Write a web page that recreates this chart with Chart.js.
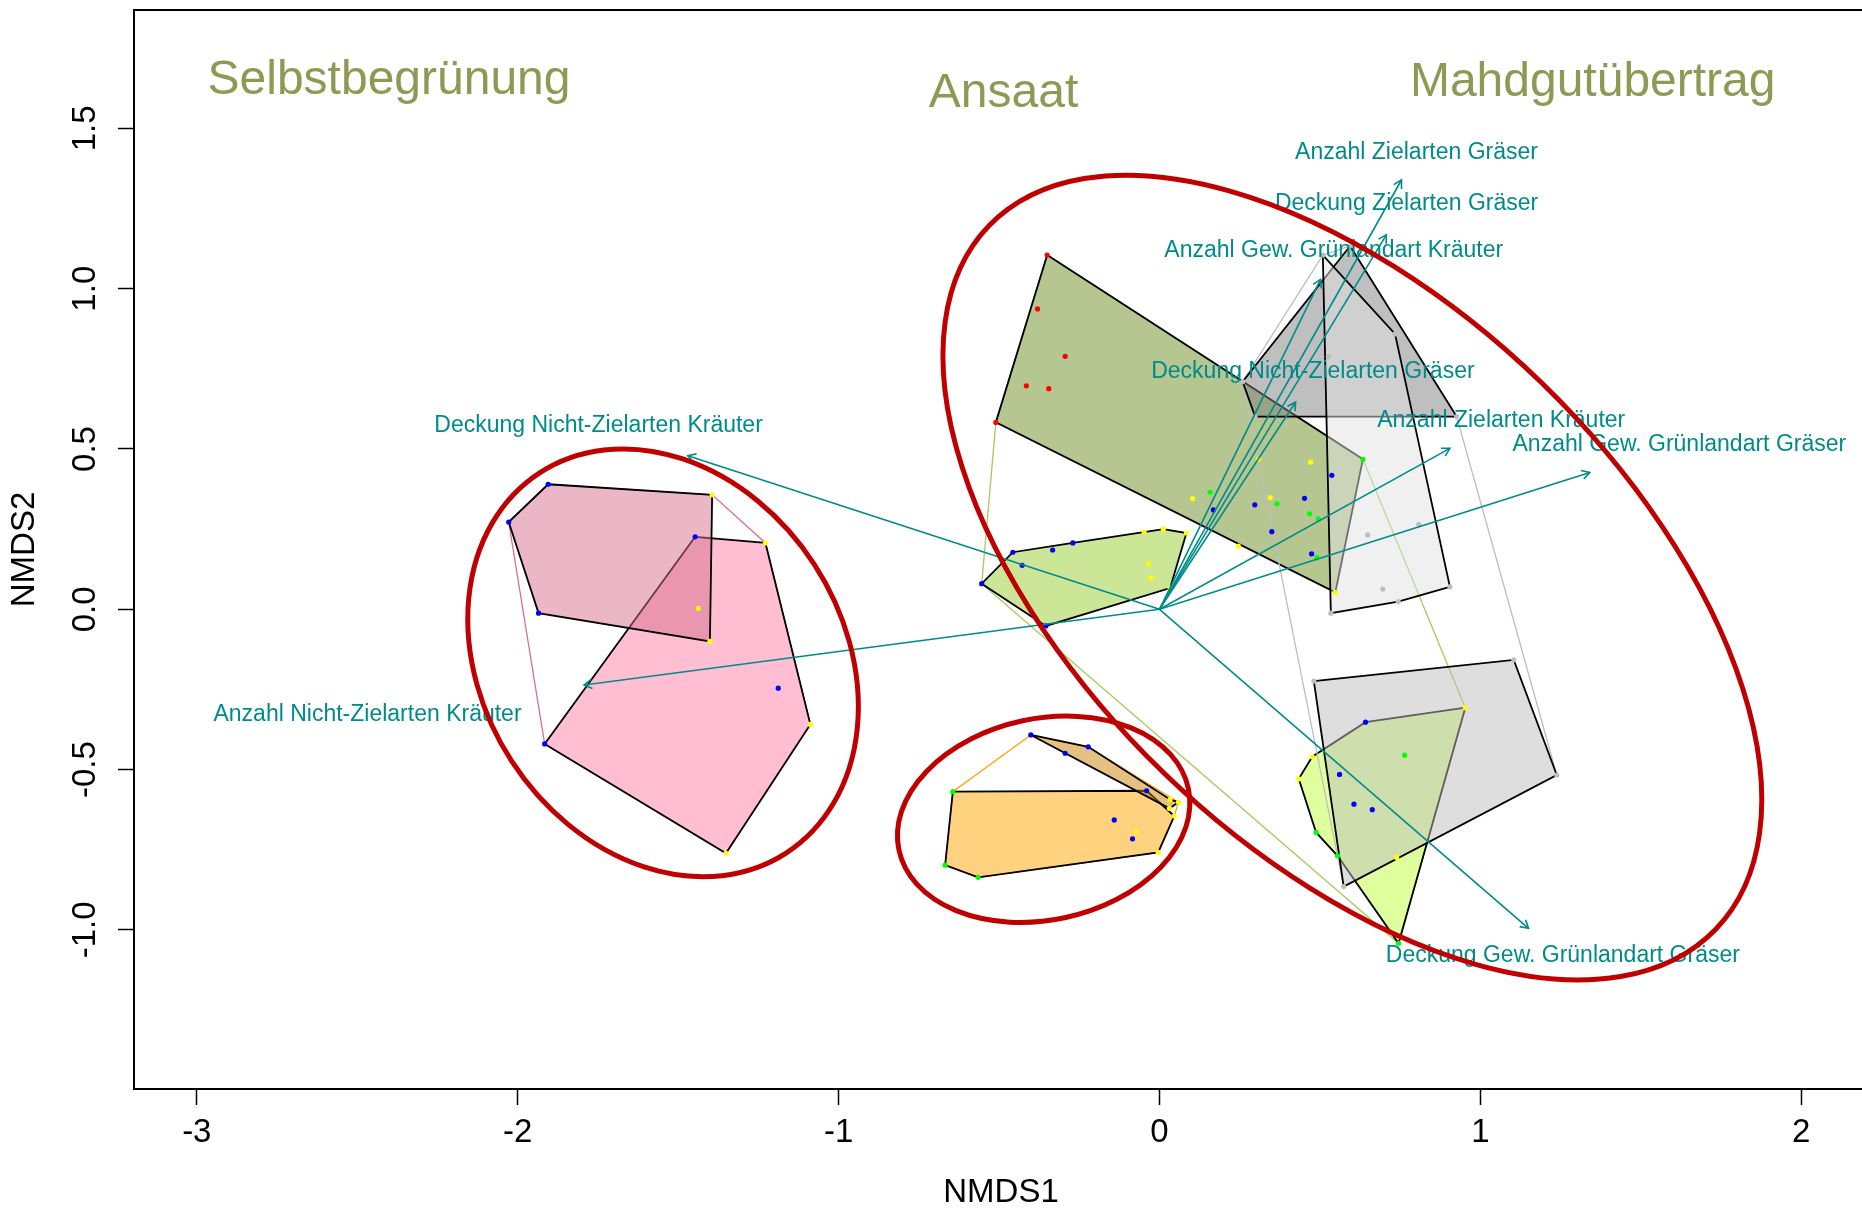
<!DOCTYPE html>
<html lang="de">
<head>
<meta charset="utf-8">
<title>NMDS – Begrünungsverfahren</title>
<script src="https://cdn.jsdelivr.net/npm/chart.js@4.4.1/dist/chart.umd.min.js"></script>
<style>
  html, body { margin: 0; padding: 0; background: #fff; overflow: hidden; width: 1862px; height: 1209px; }
  canvas { display: block; }
</style>
</head>
<body>
<canvas id="nmds" width="1874" height="1209"></canvas>
<script>
// ---- Axis ticks ----
const xTicks = [-3, -2, -1, 0, 1, 2];
const xTickLabels = ['-3', '-2', '-1', '0', '1', '2'];
const yTicks = [-1, -0.5, 0, 0.5, 1, 1.5];
const yTickLabels = ['-1.0', '-0.5', '0.0', '0.5', '1.0', '1.5'];

// ---- Site scores [NMDS1, NMDS2], by point colour ----
const sitesBlue = [
  [-1.905, 0.390], [-1.935, -0.012], [-2.028, 0.272], [-1.447, 0.226], [-1.916, -0.420], [-1.188, -0.246],
  [0.537, 0.418], [0.297, 0.326], [0.452, 0.346], [0.350, 0.242], [0.474, 0.173], [0.168, 0.310],
  [-0.554, 0.080], [-0.457, 0.178], [-0.333, 0.185], [-0.270, 0.207], [-0.354, -0.052], [-0.428, 0.137],
  [0.642, -0.352], [0.561, -0.515], [0.606, -0.608], [0.663, -0.625],
  [-0.401, -0.392], [-0.222, -0.429], [-0.294, -0.449], [-0.040, -0.566], [-0.141, -0.657], [-0.084, -0.716]
];
const sitesYellow = [
  [-1.394, 0.357], [-1.401, -0.100], [-1.437, 0.003], [-1.228, 0.207], [-1.088, -0.359], [-1.351, -0.761],
  [0.548, 0.053], [0.308, 0.468], [0.471, 0.459], [0.345, 0.348], [0.246, 0.197], [0.103, 0.345],
  [-0.048, 0.241], [0.012, 0.250], [0.084, 0.238], [0.033, 0.066], [-0.034, 0.142], [-0.026, 0.097],
  [0.953, -0.307], [0.476, -0.460], [0.434, -0.529], [0.739, -0.774],
  [0.033, -0.593], [0.059, -0.602], [0.031, -0.621], [0.046, -0.645], [-0.004, -0.758], [-0.072, -0.694]
];
const sitesGreen = [
  [0.634, 0.468], [0.366, 0.329], [0.468, 0.298], [0.495, 0.282], [0.490, 0.161], [0.158, 0.365],
  [0.488, -0.696], [0.555, -0.769], [0.745, -1.042], [0.764, -0.455],
  [-0.644, -0.569], [-0.565, -0.836], [-0.668, -0.798]
];
const sitesRed = [
  [-0.350, 1.105], [-0.510, 0.583], [-0.380, 0.937], [-0.294, 0.789], [-0.415, 0.697], [-0.345, 0.688]
];
const sitesGrey = [
  [0.509, 1.105], [0.734, 0.859], [0.905, 0.070], [0.744, 0.024], [0.534, -0.012],
  [0.594, 1.133], [0.259, 0.710], [0.298, 0.601], [0.926, 0.601],
  [0.481, -0.224], [1.104, -0.158], [1.238, -0.517], [0.574, -0.865],
  [0.649, 0.232], [0.808, 0.265], [0.696, 0.063], [0.526, 0.788]
];

// ---- Outer hulls per treatment ----
const outerSelbst = [[-2.028, 0.272], [-1.905, 0.390], [-1.394, 0.357], [-1.228, 0.207], [-1.088, -0.359], [-1.351, -0.761], [-1.916, -0.420]];
const outerAnsaat = [[-0.350, 1.105], [0.634, 0.468], [0.953, -0.307], [0.745, -1.042], [-0.554, 0.080], [-0.510, 0.583]];
const outerOrange = [[-0.401, -0.392], [-0.222, -0.429], [0.059, -0.602], [0.046, -0.645], [-0.004, -0.758], [-0.565, -0.836], [-0.668, -0.798], [-0.644, -0.569]];
const outerMahd = [[0.509, 1.105], [0.594, 1.133], [0.926, 0.601], [1.238, -0.517], [0.574, -0.865], [0.259, 0.710]];

// ---- Hulls of the sub-groups ----
const hullSelbstPink = [[-1.447, 0.226], [-1.228, 0.207], [-1.088, -0.359], [-1.351, -0.761], [-1.916, -0.420]];
const hullSelbstMauve = [[-1.905, 0.390], [-1.394, 0.357], [-1.401, -0.100], [-1.935, -0.012], [-2.028, 0.272]];
const hullAnsaatOlive = [[-0.350, 1.105], [0.634, 0.468], [0.548, 0.053], [-0.510, 0.583]];
const hullAnsaatLight = [[-0.554, 0.080], [-0.457, 0.178], [-0.270, 0.207], [0.012, 0.250], [0.084, 0.238], [0.033, 0.066], [-0.354, -0.052]];
const hullAnsaatLime = [[0.953, -0.307], [0.642, -0.352], [0.476, -0.460], [0.434, -0.529], [0.488, -0.696], [0.555, -0.769], [0.745, -1.042]];
const hullOrangeMain = [[-0.644, -0.569], [-0.040, -0.566], [0.046, -0.645], [-0.004, -0.758], [-0.565, -0.836], [-0.668, -0.798]];
const hullOrangeTip = [[-0.401, -0.392], [-0.222, -0.429], [0.033, -0.593], [0.059, -0.602], [0.031, -0.621]];
const hullMahdDark = [[0.594, 1.133], [0.926, 0.601], [0.298, 0.601], [0.259, 0.710]];
const hullMahdLight = [[0.509, 1.105], [0.734, 0.859], [0.905, 0.070], [0.744, 0.024], [0.534, -0.012]];
const hullMahdLower = [[0.481, -0.224], [1.104, -0.158], [1.238, -0.517], [0.574, -0.865]];

// ---- Fitted vectors (envfit) ----
const envNames = [
  'Anzahl Zielarten Gräser', 'Deckung Zielarten Gräser', 'Anzahl Gew. Grünlandart Kräuter',
  'Deckung Nicht-Zielarten Gräser', 'Anzahl Zielarten Kräuter', 'Anzahl Gew. Grünlandart Gräser',
  'Deckung Gew. Grünlandart Gräser', 'Deckung Nicht-Zielarten Kräuter', 'Anzahl Nicht-Zielarten Kräuter'
];
const envX = [0.754, 0.707, 0.502, 0.424, 0.905, 1.341, 1.150, -1.470, -1.793];
const envY = [1.339, 1.168, 1.029, 0.646, 0.502, 0.427, -0.995, 0.479, -0.236];
const envLabelX = [0.801, 0.770, 0.543, 0.478, 1.065, 1.620, 1.257, -1.748, -2.468];
const envLabelY = [1.423, 1.264, 1.118, 0.740, 0.587, 0.512, -1.081, 0.572, -0.328];

// ---- Treatments ----
const treatments = ['Selbstbegrünung', 'Ansaat', 'Mahdgutübertrag'];
const treatmentLabelX = [-2.401, -0.486, 1.350];
const treatmentLabelY = [1.607, 1.566, 1.600];

// Ellipses around the treatments: centre, semi-axes, rotation in degrees
const ellipseCX = [-1.547, -0.361, 0.601];
const ellipseCY = [-0.167, -0.655, 0.099];
const ellipseRX = [0.706, 0.461, 1.576];
const ellipseRY = [0.563, 0.314, 0.847];
const ellipseAngle = [-57, 12, -44.1];

// ---- Styling ----
const FONT = "'Liberation Sans', Arial, Helvetica, sans-serif";
const TEAL = '#008B8B';
const toXY = arr => arr.map(([x, y]) => ({ x, y }));
const ring = arr => toXY(arr.concat([arr[0]]));

function hullPolygon(arr, fillColor) {
  return {
    type: 'line', data: ring(arr), borderColor: '#000', borderWidth: 1.8,
    backgroundColor: fillColor, fill: 'shape', pointRadius: 0, tension: 0
  };
}
function hullOutline(arr, color) {
  return {
    type: 'line', data: ring(arr), borderColor: color, borderWidth: 1.3,
    fill: false, pointRadius: 0, tension: 0
  };
}
function sitePoints(arr, color) {
  return {
    type: 'scatter', data: toXY(arr), pointRadius: 2.6, pointBorderWidth: 0,
    pointBackgroundColor: color, backgroundColor: color, showLine: false
  };
}
function vectorLine(i) {
  return {
    type: 'line', data: [{ x: 0, y: 0 }, { x: envX[i], y: envY[i] }],
    borderColor: TEAL, borderWidth: 1.6, fill: false, pointRadius: 0
  };
}

// Drawn bottom to top
const layers = [
  hullOutline(outerSelbst, '#DB7093'),
  hullPolygon(hullSelbstPink, 'rgba(255,125,165,0.5)'),
  hullPolygon(hullSelbstMauve, 'rgba(215,111,143,0.5)'),
  hullOutline(outerAnsaat, '#A2CD5A'),
  hullPolygon(hullAnsaatOlive, 'rgba(107,142,35,0.5)'),
  hullPolygon(hullAnsaatLight, 'rgba(154,205,50,0.5)'),
  hullPolygon(hullAnsaatLime, 'rgba(192,255,62,0.5)'),
  hullOutline(outerOrange, '#FFA500'),
  hullPolygon(hullOrangeMain, 'rgba(255,165,0,0.5)'),
  hullPolygon(hullOrangeTip, 'rgba(201,129,5,0.5)'),
  hullOutline(outerMahd, '#BEBEBE'),
  hullPolygon(hullMahdDark, 'rgba(127,127,127,0.5)'),
  hullPolygon(hullMahdLight, 'rgba(225,225,225,0.5)'),
  hullPolygon(hullMahdLower, 'rgba(189,189,189,0.5)'),
  sitePoints(sitesGrey, '#BEBEBE'),
  sitePoints(sitesRed, '#FF0000'),
  sitePoints(sitesGreen, '#00FF00'),
  sitePoints(sitesYellow, '#FFFF00'),
  sitePoints(sitesBlue, '#0000FF'),
  ...envNames.map((_, i) => vectorLine(i))
];
layers.forEach((ds, i) => { ds.order = -i; });

// Arrow heads, vector labels, treatment names, ellipses and the plot frame
const overlay = {
  id: 'overlay',
  afterDatasetsDraw(chart) {
    const { ctx, chartArea: ca } = chart;
    const xs = chart.scales.x, ys = chart.scales.y;
    ctx.save();

    // arrow heads
    ctx.strokeStyle = TEAL;
    ctx.lineWidth = 1.6;
    const ox = xs.getPixelForValue(0), oy = ys.getPixelForValue(0);
    envX.forEach((vx, i) => {
      const px = xs.getPixelForValue(vx), py = ys.getPixelForValue(envY[i]);
      const a = Math.atan2(py - oy, px - ox), len = 9, spread = Math.PI / 6;
      ctx.beginPath();
      ctx.moveTo(px - len * Math.cos(a - spread), py - len * Math.sin(a - spread));
      ctx.lineTo(px, py);
      ctx.lineTo(px - len * Math.cos(a + spread), py - len * Math.sin(a + spread));
      ctx.stroke();
    });

    // vector labels
    ctx.fillStyle = TEAL;
    ctx.font = `23px ${FONT}`;
    ctx.textAlign = 'center';
    ctx.textBaseline = 'middle';
    envNames.forEach((name, i) => {
      ctx.fillText(name, xs.getPixelForValue(envLabelX[i]), ys.getPixelForValue(envLabelY[i]));
    });

    // treatment names
    ctx.fillStyle = '#8C9A54';
    ctx.font = `48px ${FONT}`;
    ctx.textBaseline = 'alphabetic';
    treatments.forEach((t, i) => {
      ctx.fillText(t, xs.getPixelForValue(treatmentLabelX[i]), ys.getPixelForValue(treatmentLabelY[i]));
    });

    // ellipses
    ctx.strokeStyle = '#C00000';
    ctx.lineWidth = 5;
    ellipseCX.forEach((cx, i) => {
      const px = xs.getPixelForValue(cx), py = ys.getPixelForValue(ellipseCY[i]);
      const rx = Math.abs(xs.getPixelForValue(ellipseRX[i]) - xs.getPixelForValue(0));
      const ry = Math.abs(ys.getPixelForValue(ellipseRY[i]) - ys.getPixelForValue(0));
      ctx.beginPath();
      ctx.ellipse(px, py, rx, ry, -ellipseAngle[i] * Math.PI / 180, 0, 2 * Math.PI);
      ctx.stroke();
    });

    // plot frame
    ctx.strokeStyle = '#000';
    ctx.lineWidth = 2;
    ctx.strokeRect(ca.left, ca.top, ca.right - ca.left, ca.bottom - ca.top);
    ctx.restore();
  }
};

new Chart(document.getElementById('nmds'), {
  type: 'scatter',
  data: { datasets: layers },
  options: {
    responsive: false,
    animation: false,
    events: [],
    layout: { padding: { left: 0, top: 10, right: 6, bottom: 0 } },
    plugins: { legend: { display: false }, tooltip: { enabled: false } },
    scales: {
      x: {
        type: 'linear',
        min: -3.1957, max: 2.2079,
        afterBuildTicks: s => { s.ticks = xTicks.map(v => ({ value: v })); },
        afterFit: s => { s.height = 120; s.paddingLeft = 0; s.paddingRight = 0; },
        ticks: {
          autoSkip: false, maxRotation: 0, minRotation: 0, padding: 8.5,
          color: '#000', font: { family: FONT, size: 33 },
          callback: (v, i) => xTickLabels[i]
        },
        grid: { display: true, drawOnChartArea: false, drawTicks: true, tickLength: 16, tickColor: '#000', tickWidth: 1.5 },
        border: { display: true, color: '#000', width: 2 },
        title: { display: true, text: 'NMDS1', color: '#000', font: { family: FONT, size: 33, lineHeight: 1 }, padding: { top: 0, bottom: 0 } }
      },
      y: {
        type: 'linear',
        min: -1.4963, max: 1.8693,
        afterBuildTicks: s => { s.ticks = yTicks.map(v => ({ value: v })); },
        afterFit: s => { s.width = 134; s.paddingTop = 0; s.paddingBottom = 0; },
        ticks: {
          autoSkip: false, minRotation: 90, maxRotation: 90, crossAlign: 'center', padding: 4,
          color: '#000', font: { family: FONT, size: 33 },
          callback: (v, i) => yTickLabels[i]
        },
        grid: { display: true, drawOnChartArea: false, drawTicks: true, tickLength: 16, tickColor: '#000', tickWidth: 1.5 },
        border: { display: true, color: '#000', width: 2 },
        title: { display: true, text: 'NMDS2', color: '#000', font: { family: FONT, size: 33, lineHeight: 1 }, padding: { top: 8, bottom: 0 } }
      }
    }
  },
  plugins: [overlay]
});
</script>
</body>
</html>
